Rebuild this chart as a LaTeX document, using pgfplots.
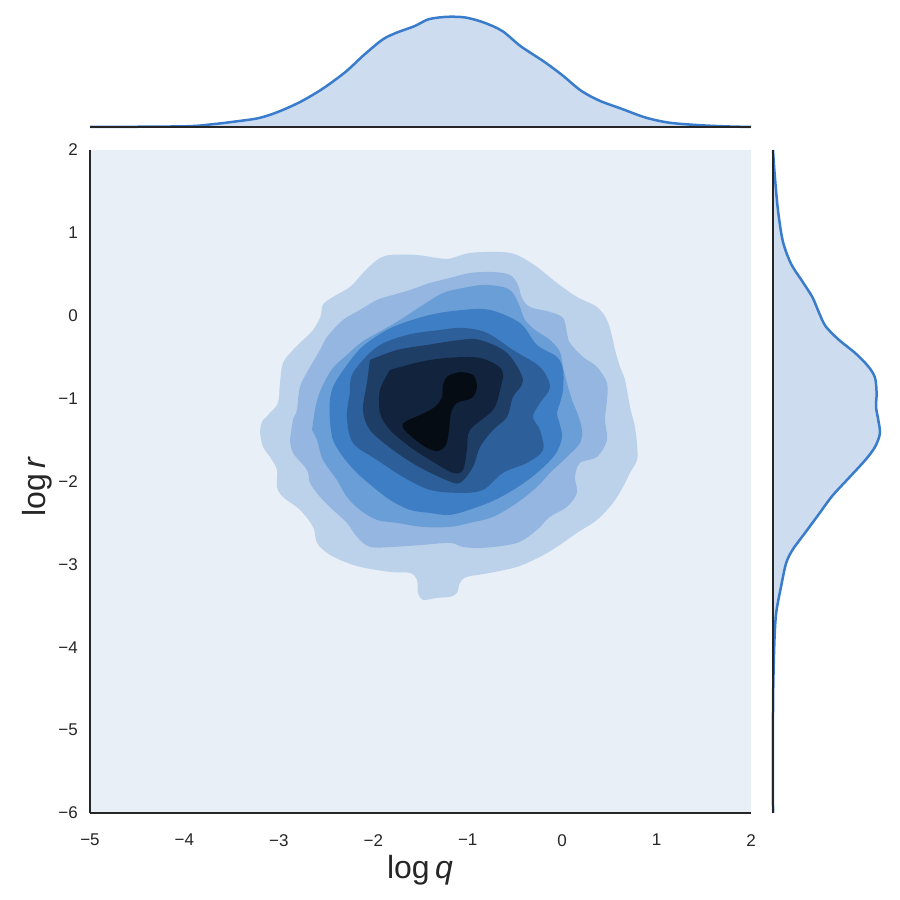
\documentclass[border=0pt]{standalone}
\usepackage{fontspec}
\setmainfont{Liberation Sans}
\usepackage{pgfplots}
\pgfplotsset{compat=1.18}
\definecolor{c0}{HTML}{E8EFF7}
\definecolor{c1}{HTML}{BCD2EA}
\definecolor{c2}{HTML}{94B6E0}
\definecolor{c3}{HTML}{6A9ED6}
\definecolor{c4}{HTML}{3E7EC4}
\definecolor{c5}{HTML}{2D609A}
\definecolor{c6}{HTML}{1E3E66}
\definecolor{c7}{HTML}{12243D}
\definecolor{c8}{HTML}{060C14}
\definecolor{spine}{HTML}{262626}
\definecolor{mline}{HTML}{3A7CCC}
\definecolor{mfill}{HTML}{CDDCEF}
\pgfplotsset{
  spines/.style={
    every outer x axis line/.append style={-, line width=2.5pt, draw=spine},
    every outer y axis line/.append style={-, line width=2.5pt, draw=spine},
    x axis line style={-, line width=2.5pt, draw=spine},
    y axis line style={-, line width=2.5pt, draw=spine}}
}
\begin{document}
\begin{tikzpicture}
\useasboundingbox (0pt,0pt) rectangle (900pt,900pt);
% main joint axis
\begin{axis}[at={(90pt,87pt)}, anchor=south west, scale only axis,
  width=661pt, height=663pt,
  xmin=-5, xmax=2, ymin=-6, ymax=2,
  separate axis lines, axis x line*=bottom, axis y line*=left, spines,
  axis on top,
  xtick={-5,-4,-3,-2,-1,0,1,2},
  xticklabels={−5,−4,−3,−2,−1,0,1,2},
  ytick={-6,-5,-4,-3,-2,-1,0,1,2},
  yticklabels={−6,−5,−4,−3,−2,−1,0,1,2},
  major tick length=0pt,
  tick label style={font=\fontsize{17}{20}\selectfont, text=spine, inner sep=0pt},
  xticklabel style={anchor=north, yshift=-21pt},
  yticklabel style={anchor=east, xshift=-12pt},
  tension=0.55]
\addplot[fill=c0, draw=none] coordinates {(-5,-6) (2,-6) (2,2) (-5,2)} -- cycle;
% level 1
\addplot[fill=c1, draw=none, smooth] coordinates {
(-3.200,-1.414)(-3.179,-1.281)(-3.094,-1.173)(-3.009,-1.052)(-2.988,-0.811)(-2.956,-0.569)(-2.850,-0.413)(-2.744,-0.292)(-2.638,-0.171)(-2.560,-0.014)(-2.533,0.134)(-2.427,0.227)(-2.247,0.347)(-2.109,0.516)(-1.961,0.673)(-1.823,0.733)(-1.537,0.733)(-1.325,0.697)(-1.188,0.690)(-0.976,0.758)(-0.658,0.770)(-0.478,0.733)(-0.266,0.589)(-0.055,0.396)(0.157,0.227)(0.369,0.106)(0.475,-0.051)(0.530,-0.256)(0.560,-0.413)(0.613,-0.618)(0.666,-0.774)(0.719,-1.100)(0.771,-1.341)(0.793,-1.559)(0.793,-1.739)(0.719,-1.896)(0.644,-2.065)(0.539,-2.258)(0.369,-2.463)(0.157,-2.620)(-0.055,-2.789)(-0.235,-2.910)(-0.478,-3.030)(-0.764,-3.103)(-1.008,-3.151)(-1.082,-3.223)(-1.114,-3.344)(-1.188,-3.392)(-1.325,-3.404)(-1.474,-3.428)(-1.527,-3.344)(-1.537,-3.187)(-1.611,-3.103)(-1.823,-3.091)(-2.141,-3.030)(-2.353,-2.946)(-2.490,-2.861)(-2.596,-2.741)(-2.638,-2.548)(-2.776,-2.343)(-2.956,-2.186)(-3.020,-2.065)(-3.020,-1.860)(-3.094,-1.703)(-3.168,-1.583)(-3.200,-1.414)} -- cycle;
% level 2
\addplot[fill=c2, draw=none, smooth] coordinates {
(-2.882,-1.498)(-2.850,-1.257)(-2.808,-1.136)(-2.776,-0.858)(-2.670,-0.618)(-2.564,-0.413)(-2.490,-0.256)(-2.321,-0.051)(-2.141,0.070)(-1.961,0.191)(-1.792,0.251)(-1.611,0.311)(-1.400,0.396)(-1.188,0.456)(-0.976,0.516)(-0.732,0.528)(-0.552,0.492)(-0.468,0.372)(-0.425,0.215)(-0.340,0.106)(-0.129,0.046)(0.009,-0.026)(0.051,-0.207)(0.083,-0.328)(0.221,-0.497)(0.369,-0.618)(0.475,-0.811)(0.475,-1.016)(0.454,-1.257)(0.475,-1.498)(0.369,-1.703)(0.189,-1.775)(0.136,-1.944)(0.157,-2.137)(0.051,-2.306)(-0.129,-2.426)(-0.266,-2.583)(-0.478,-2.741)(-0.838,-2.801)(-1.050,-2.789)(-1.188,-2.741)(-1.474,-2.765)(-1.792,-2.789)(-2.035,-2.789)(-2.173,-2.668)(-2.279,-2.499)(-2.427,-2.343)(-2.564,-2.186)(-2.670,-2.017)(-2.702,-1.860)(-2.850,-1.655)(-2.882,-1.498)} -- cycle;
% level 3
\addplot[fill=c3, draw=none, smooth] coordinates {
(-2.649,-1.378)(-2.607,-1.076)(-2.543,-0.858)(-2.427,-0.630)(-2.279,-0.473)(-2.120,-0.316)(-1.898,-0.171)(-1.718,-0.051)(-1.474,0.130)(-1.262,0.275)(-1.050,0.335)(-0.838,0.372)(-0.626,0.347)(-0.521,0.275)(-0.447,0.106)(-0.394,-0.051)(-0.288,-0.171)(-0.129,-0.292)(-0.023,-0.437)(0.009,-0.618)(0.051,-0.811)(0.104,-1.016)(0.168,-1.197)(0.210,-1.378)(0.189,-1.535)(0.051,-1.703)(-0.129,-1.896)(-0.266,-2.065)(-0.478,-2.258)(-0.732,-2.426)(-0.976,-2.499)(-1.188,-2.548)(-1.474,-2.548)(-1.749,-2.499)(-1.961,-2.463)(-2.141,-2.343)(-2.279,-2.186)(-2.385,-1.981)(-2.533,-1.739)(-2.596,-1.498)(-2.649,-1.378)} -- cycle;
% level 4
\addplot[fill=c4, draw=none, smooth] coordinates {
(-2.459,-1.257)(-2.459,-1.016)(-2.406,-0.811)(-2.215,-0.497)(-2.067,-0.328)(-1.792,-0.135)(-1.400,0.010)(-1.050,0.070)(-0.764,0.070)(-0.447,-0.087)(-0.266,-0.352)(-0.055,-0.497)(0.009,-0.654)(0.009,-0.895)(-0.023,-1.052)(-0.055,-1.173)(-0.023,-1.318)(-0.002,-1.474)(-0.076,-1.679)(-0.266,-1.896)(-0.468,-2.065)(-0.690,-2.210)(-0.923,-2.318)(-1.188,-2.403)(-1.400,-2.379)(-1.611,-2.343)(-1.823,-2.222)(-2.003,-2.065)(-2.173,-1.896)(-2.321,-1.703)(-2.427,-1.498)(-2.459,-1.257)} -- cycle;
% level 5
\addplot[fill=c5, draw=none, smooth] coordinates {
(-2.247,-0.931)(-2.215,-0.690)(-1.961,-0.376)(-1.643,-0.232)(-1.294,-0.171)(-1.050,-0.147)(-0.796,-0.207)(-0.521,-0.413)(-0.235,-0.618)(-0.129,-0.858)(-0.235,-1.052)(-0.309,-1.221)(-0.235,-1.378)(-0.203,-1.619)(-0.372,-1.775)(-0.626,-1.896)(-0.838,-2.101)(-1.082,-2.137)(-1.400,-2.101)(-1.686,-1.944)(-1.961,-1.739)(-2.215,-1.535)(-2.279,-1.221)(-2.247,-0.931)} -- cycle;
% level 6
\addplot[fill=c6, draw=none, smooth] coordinates {
(-2.035,-0.533)(-1.749,-0.413)(-1.432,-0.352)(-1.082,-0.292)(-0.870,-0.292)(-0.584,-0.449)(-0.415,-0.774)(-0.521,-0.979)(-0.584,-1.221)(-0.732,-1.378)(-0.870,-1.583)(-0.944,-1.824)(-1.082,-2.017)(-1.230,-1.981)(-1.516,-1.824)(-1.792,-1.619)(-2.035,-1.378)(-2.109,-1.136)(-2.067,-0.811)(-2.035,-0.533)} -- cycle;
% level 7
\addplot[fill=c7, draw=none, smooth] coordinates {
(-1.823,-0.654)(-1.505,-0.557)(-1.220,-0.509)(-0.870,-0.509)(-0.637,-0.654)(-0.658,-0.895)(-0.732,-1.136)(-0.976,-1.378)(-1.008,-1.619)(-1.050,-1.860)(-1.156,-1.896)(-1.400,-1.739)(-1.611,-1.583)(-1.823,-1.378)(-1.929,-1.173)(-1.929,-0.895)(-1.823,-0.654)} -- cycle;
% level 8
\addplot[fill=c8, draw=none, smooth] coordinates {
(-1.082,-0.678)(-0.944,-0.714)(-0.902,-0.858)(-0.955,-0.991)(-1.114,-1.052)(-1.177,-1.173)(-1.198,-1.378)(-1.230,-1.559)(-1.315,-1.631)(-1.432,-1.595)(-1.580,-1.474)(-1.686,-1.353)(-1.665,-1.281)(-1.505,-1.197)(-1.347,-1.100)(-1.273,-0.979)(-1.262,-0.835)(-1.209,-0.726)(-1.082,-0.678)} -- cycle;
\end{axis}
% top marginal
\begin{axis}[at={(90pt,773pt)}, anchor=south west, scale only axis,
  width=661pt, height=127pt,
  xmin=-5, xmax=2, ymin=0, ymax=0.503,
  separate axis lines, axis x line*=bottom, axis y line=none, spines,
  axis on top,
  xtick=\empty, ytick=\empty, clip=false, tension=0.5]
\addplot[fill=mfill, draw=none, smooth] coordinates {
(-5.0,0)(-4.000,0.0027)(-3.707,0.0108)(-3.463,0.0216)(-3.219,0.0348)(-3.024,0.0576)(-2.780,0.098)(-2.536,0.1516)(-2.292,0.2188)(-2.097,0.286)(-1.901,0.3464)(-1.755,0.3732)(-1.560,0.400)(-1.413,0.4268)(-1.218,0.4364)(-1.024,0.4336)(-0.828,0.4136)(-0.633,0.380)(-0.438,0.3196)(-0.193,0.2592)(0.002,0.2052)(0.196,0.1448)(0.392,0.1048)(0.636,0.0712)(0.881,0.0376)(1.124,0.0176)(1.416,0.008)(1.710,0.0027)(2.0,0)} -- cycle;
\addplot[draw=mline, line width=2.5pt, smooth] coordinates {
(-5.0,0)(-4.000,0.0027)(-3.707,0.0108)(-3.463,0.0216)(-3.219,0.0348)(-3.024,0.0576)(-2.780,0.098)(-2.536,0.1516)(-2.292,0.2188)(-2.097,0.286)(-1.901,0.3464)(-1.755,0.3732)(-1.560,0.400)(-1.413,0.4268)(-1.218,0.4364)(-1.024,0.4336)(-0.828,0.4136)(-0.633,0.380)(-0.438,0.3196)(-0.193,0.2592)(0.002,0.2052)(0.196,0.1448)(0.392,0.1048)(0.636,0.0712)(0.881,0.0376)(1.124,0.0176)(1.416,0.008)(1.710,0.0027)(2.0,0)};
\end{axis}
% right marginal
\begin{axis}[at={(773pt,87pt)}, anchor=south west, scale only axis,
  width=127pt, height=663pt,
  xmin=0, xmax=0.508, ymin=-6, ymax=2,
  separate axis lines, axis y line*=left, axis x line=none, spines,
  axis on top,
  xtick=\empty, ytick=\empty, clip=false, tension=0.5]
\addplot[fill=mfill, draw=none, smooth] coordinates {
(0,2.0)(0.0068,1.703)(0.020,1.271)(0.0396,0.895)(0.0724,0.626)(0.1184,0.410)(0.158,0.222)(0.1844,0.034)(0.2108,-0.128)(0.2632,-0.290)(0.3292,-0.451)(0.3816,-0.613)(0.408,-0.748)(0.4144,-0.936)(0.412,-1.098)(0.4212,-1.259)(0.4276,-1.421)(0.408,-1.583)(0.3684,-1.744)(0.3028,-1.959)(0.2368,-2.175)(0.1844,-2.390)(0.1316,-2.606)(0.0792,-2.820)(0.0528,-2.982)(0.0332,-3.252)(0.0132,-3.574)(0.0068,-3.844)(0.0028,-4.221)(0,-4.760)(0,-6)} -- cycle;
\addplot[draw=mline, line width=2.5pt, smooth] coordinates {
(0,2.0)(0.0068,1.703)(0.020,1.271)(0.0396,0.895)(0.0724,0.626)(0.1184,0.410)(0.158,0.222)(0.1844,0.034)(0.2108,-0.128)(0.2632,-0.290)(0.3292,-0.451)(0.3816,-0.613)(0.408,-0.748)(0.4144,-0.936)(0.412,-1.098)(0.4212,-1.259)(0.4276,-1.421)(0.408,-1.583)(0.3684,-1.744)(0.3028,-1.959)(0.2368,-2.175)(0.1844,-2.390)(0.1316,-2.606)(0.0792,-2.820)(0.0528,-2.982)(0.0332,-3.252)(0.0132,-3.574)(0.0068,-3.844)(0.0028,-4.221)(0,-4.760)(0,-6)};
\end{axis}
\node[anchor=center, inner sep=0pt, font=\fontsize{32}{38}\selectfont, text=spine] at (420pt,30pt) {log\,\textit{q}};
\node[rotate=90, anchor=center, inner sep=0pt, font=\fontsize{32}{38}\selectfont, text=spine] at (37pt,413pt) {log\,\textit{r}};
\end{tikzpicture}
\end{document}
